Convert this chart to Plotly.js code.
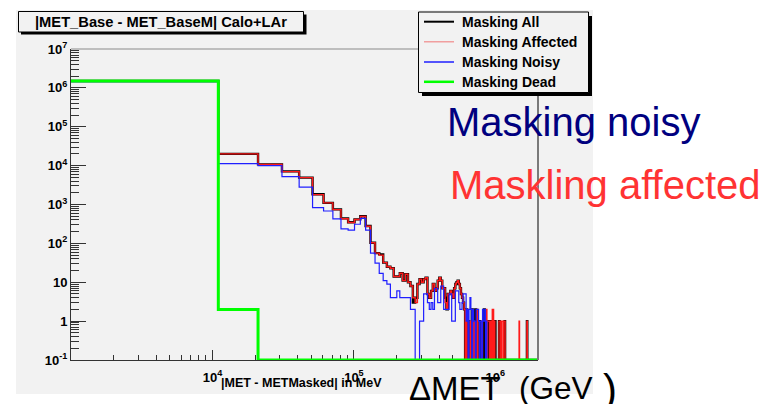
<!DOCTYPE html>
<html>
<head>
<meta charset="utf-8">
<script src="https://cdn.plot.ly/plotly-3.0.1.min.js"></script>
<style>
  html, body { margin: 0; padding: 0; background: #ffffff; }
  #chart { width: 768px; height: 404px; }
</style>
</head>
<body>
<div id="chart"></div>
<script>
// Histogram binning: 200 bins of 10 GeV starting at 1 GeV (values in MeV)
const binStart = 1000;
const binWidth = 10000;
const nBins = 200;

// Entries per bin; bins past the end of each list are empty
const countsAll = [
  1500000, 20000, 10800, 7100, 4900, 1830, 1100, 750, 440, 350,
  415, 500, 280, 104, 56, 52, 32, 25, 23, 14,
  14, 17, 11, 16, 10, 8, 3, 4, 9, 12,
  10, 12, 13, 5, 4, 6, 9, 6, 7, 11,
  13, 11, 7, 7, 4, 2, 5, 5, 6, 5,
  4, 7, 9, 10, 11, 9, 7, 5, 4, 3,
  2, 0, 2, 0, 1, 0, 0, 0, 2, 0,
  0, 0, 2, 0, 0, 0, 0, 1, 0, 0,
  0, 0, 0, 2, 0, 0, 0, 0, 1, 0,
  1, 0, 1, 0, 0, 0, 0, 0, 0, 1,
  0, 0, 0, 0, 0, 0, 1, 0, 0, 0,
  0, 0, 0, 0, 0, 0, 1, 0, 0, 0,
  0, 0, 0, 0, 0, 0, 0, 0, 0, 0,
  0, 0, 0, 0, 0, 0, 0, 0, 0, 0,
  0, 0, 0, 0, 0, 0, 0, 0, 0, 0,
  0, 0, 0, 0, 0, 0, 0, 0, 0, 0,
  0, 0, 0, 0, 0, 0, 0, 1
];

const countsAffected = [
  1500000, 20000, 10700, 7000, 4900, 1800, 1100, 740, 430, 345,
  410, 490, 275, 104, 56, 50, 32, 25, 23, 14,
  14, 17, 11, 16, 10, 8, 4, 3, 9, 12,
  10, 12, 13, 5, 4, 6, 9, 6, 7, 11,
  13, 11, 7, 7, 3, 2, 5, 5, 6, 5,
  4, 7, 9, 10, 11, 9, 7, 5, 4, 3,
  2, 0, 2, 0, 0, 0, 1, 0, 0, 0,
  1, 0, 0, 0, 2, 0, 0, 0, 0, 0,
  1, 0, 0, 0, 0, 0, 2, 0, 1, 1,
  1, 0, 1, 1, 0, 2, 2, 0, 1, 0,
  0, 0, 0, 0, 0, 0, 1, 1, 1, 0,
  1, 1, 1, 0, 1, 1, 1, 0, 0, 0,
  0, 0, 0, 0, 0, 0, 0, 0, 0, 0,
  0, 0, 0, 0, 0, 0, 0, 0, 0, 0,
  0, 0, 0, 0, 0, 0, 0, 1, 0, 0,
  0, 0, 0, 0, 0, 0, 0, 0, 0, 0,
  0, 0, 0, 0, 0, 0, 0, 1
];

const countsNoisy = [
  1450000, 11200, 10000, 5200, 2800, 830, 680, 425, 235, 220,
  310, 440, 220, 56, 31, 17, 11, 9, 4, 4,
  6, 4, 4, 4, 4, 2, 2, 0, 0, 1,
  1, 5, 5, 3, 2, 3, 2, 7, 7, 3,
  3, 8, 8, 2, 2, 2, 2, 5, 5, 1,
  1, 1, 6, 6, 6, 3, 2, 2, 3, 5,
  5, 5, 1, 2, 0, 2, 4, 2, 0, 2,
  1, 1, 0, 2, 2, 2, 1, 0, 1, 1,
  0, 2, 1, 1, 2, 0, 1
];

const countsDead = [1500000, 2];

const seriesNames = ['Masking All', 'Masking Affected', 'Masking Noisy', 'Masking Dead'];

const yTickVals = [0.1, 1, 10, 100, 1e3, 1e4, 1e5, 1e6, 1e7];
const yTickText = ['10<sup>-1</sup>', '1', '10', '10<sup>2</sup>', '10<sup>3</sup>',
                   '10<sup>4</sup>', '10<sup>5</sup>', '10<sup>6</sup>', '10<sup>7</sup>'];
const xTickVals = [1e4, 1e5, 1e6];
const xTickText = ['10<sup>4</sup>', '10<sup>5</sup>', '10<sup>6</sup>'];

// ---- drawing ----
const xLow = binStart;
const xHigh = binStart + nBins * binWidth;
const yLow = 0.1, yHigh = 1e7;

// empty bins are drawn along the bottom of the log frame
function stepTrace(counts, color, width, name) {
  const x = [], y = [];
  for (let k = 0; k < nBins; k++) {
    const c = k < counts.length ? counts[k] : 0;
    x.push(binStart + k * binWidth);
    y.push(c > 0 ? c : yLow);
  }
  x.push(xHigh);
  y.push(y[y.length - 1]);
  return {
    type: 'scatter', mode: 'lines', name: name, x: x, y: y,
    line: { shape: 'hv', color: color, width: width },
    hoverinfo: 'skip', showlegend: false
  };
}

// minor ticks at 2..9 of every decade
function minorLogTicks(lo, hi) {
  const out = [];
  for (let d = Math.floor(Math.log10(lo)); d <= Math.ceil(Math.log10(hi)); d++) {
    for (let m = 2; m <= 9; m++) {
      const v = m * Math.pow(10, d);
      if (v > lo && v < hi) out.push(v);
    }
  }
  return out;
}

const bold = arr => arr.map(t => '<b>' + t + '</b>');

// pixel position on the canvas -> paper fraction of the frame
const F = { l: 71, r: 538, t: 49, b: 360 };
const PX = v => (v - F.l) / (F.r - F.l);
const PY = v => (F.b - v) / (F.b - F.t);

const colAll = '#000000', colAff = '#ff1a1a', colNoisy = '#1f1fff', colDead = '#00ff00';

const traces = [
  stepTrace(countsAll, colAll, 2.4, seriesNames[0]),
  stepTrace(countsAffected, colAff, 1.4, seriesNames[1]),
  stepTrace(countsNoisy, colNoisy, 1.2, seriesNames[2]),
  stepTrace(countsDead, colDead, 3, seriesNames[3])
];

const fontFam = 'Liberation Sans, Arial, Helvetica, sans-serif';

const shapes = [
  // canvas pad
  { type: 'rect', xref: 'paper', yref: 'paper', x0: PX(16), x1: PX(593), y0: PY(394), y1: PY(10),
    fillcolor: '#f2f2f2', line: { width: 0 }, layer: 'below' },
  // frame top / right
  { type: 'line', xref: 'paper', yref: 'paper', x0: 0, x1: 1, y0: 1, y1: 1,
    line: { color: '#8a8a8a', width: 1 } },
  { type: 'line', xref: 'paper', yref: 'paper', x0: 1, x1: 1, y0: 0, y1: 1,
    line: { color: '#7a7a7a', width: 2 } },
  // title box with shadow
  { type: 'rect', xref: 'paper', yref: 'paper', x0: PX(21), x1: PX(306.5), y0: PY(34.5), y1: PY(14.5),
    fillcolor: '#000000', line: { width: 0 } },
  { type: 'rect', xref: 'paper', yref: 'paper', x0: PX(18.5), x1: PX(303.5), y0: PY(32), y1: PY(11.5),
    fillcolor: '#f2f2f2', line: { color: '#000000', width: 1 } },
  // legend box with shadow
  { type: 'rect', xref: 'paper', yref: 'paper', x0: PX(422), x1: PX(592), y0: PY(96), y1: PY(16),
    fillcolor: '#000000', line: { width: 0 } },
  { type: 'rect', xref: 'paper', yref: 'paper', x0: PX(418.5), x1: PX(588.5), y0: PY(92.5), y1: PY(12),
    fillcolor: '#f2f2f2', line: { color: '#000000', width: 1 } }
];

const legendRows = [21.7, 41.8, 62, 81.8];
const legendLineStyle = [
  { color: colAll, width: 2 },
  { color: '#f08a8a', width: 1.2 },
  { color: colNoisy, width: 1.5 },
  { color: colDead, width: 2.5 }
];
legendRows.forEach((row, i) => {
  shapes.push({ type: 'line', xref: 'paper', yref: 'paper', x0: PX(424), x1: PX(454),
    y0: PY(row), y1: PY(row), line: legendLineStyle[i] });
});

const annotations = [
  { text: '<b>|MET_Base - MET_BaseM| Calo+LAr</b>', xref: 'paper', yref: 'paper',
    x: PX(161), y: PY(21.8), xanchor: 'center', yanchor: 'middle', showarrow: false,
    font: { family: fontFam, size: 14.7, color: '#000000' } },
  { text: '<b>|MET - METMasked| in MeV</b>', xref: 'paper', yref: 'paper',
    x: PX(384), y: PY(383), xanchor: 'right', yanchor: 'middle', showarrow: false,
    font: { family: fontFam, size: 12.5, color: '#000000' } },
  { text: 'Masking noisy', xref: 'paper', yref: 'paper',
    x: PX(445), y: PY(122), xanchor: 'left', yanchor: 'middle', showarrow: false,
    font: { family: fontFam, size: 40, color: '#00007f' } },
  { text: 'Maskling affected', xref: 'paper', yref: 'paper',
    x: PX(448), y: PY(185), xanchor: 'left', yanchor: 'middle', showarrow: false,
    font: { family: fontFam, size: 40, color: '#ff3333' } },
  { text: '\u0394MET', xref: 'paper', yref: 'paper',
    x: PX(407), y: PY(388), xanchor: 'left', yanchor: 'middle', showarrow: false,
    font: { family: fontFam, size: 33, color: '#000000' } },
  { text: '(GeV', xref: 'paper', yref: 'paper',
    x: PX(517), y: PY(388), xanchor: 'left', yanchor: 'middle', showarrow: false,
    font: { family: fontFam, size: 31.5, color: '#000000' } },
  { text: ')', xref: 'paper', yref: 'paper',
    x: PX(601), y: PY(389), xanchor: 'left', yanchor: 'middle', showarrow: false,
    font: { family: fontFam, size: 42, color: '#000000' } }
];
legendRows.forEach((row, i) => {
  annotations.push({ text: '<b>' + seriesNames[i] + '</b>', xref: 'paper', yref: 'paper',
    x: PX(460), y: PY(row), xanchor: 'left', yanchor: 'middle', showarrow: false,
    font: { family: fontFam, size: 14, color: '#000000' } });
});

const axisCommon = {
  type: 'log', showgrid: false, zeroline: false, showline: true,
  linecolor: '#333333', linewidth: 1, ticks: 'inside', tickcolor: '#333333', tickwidth: 1,
  tickmode: 'array', fixedrange: true, layer: 'below traces',
  tickfont: { family: fontFam, size: 13, color: '#000000' }
};

const layout = {
  width: 768, height: 404,
  margin: { l: F.l, r: 768 - F.r, t: F.t, b: 404 - F.b, pad: 0 },
  paper_bgcolor: '#ffffff',
  plot_bgcolor: '#f2f2f2',
  showlegend: false,
  xaxis: Object.assign({}, axisCommon, {
    range: [Math.log10(xLow), Math.log10(xHigh)],
    tickvals: xTickVals, ticktext: bold(xTickText), ticklen: 10, ticklabelstandoff: 5,
    minor: { tickmode: 'array', tickvals: minorLogTicks(xLow, xHigh), ticks: 'inside',
             ticklen: 5, tickcolor: '#333333', tickwidth: 1, showgrid: false }
  }),
  yaxis: Object.assign({}, axisCommon, {
    range: [Math.log10(yLow), Math.log10(yHigh)],
    tickvals: yTickVals, ticktext: bold(yTickText), ticklen: 15,
    minor: { tickmode: 'array', tickvals: minorLogTicks(yLow, yHigh), ticks: 'inside',
             ticklen: 8, tickcolor: '#333333', tickwidth: 1, showgrid: false }
  }),
  shapes: shapes,
  annotations: annotations
};

Plotly.newPlot('chart', traces, layout, { staticPlot: true, displayModeBar: false });
</script>
</body>
</html>
